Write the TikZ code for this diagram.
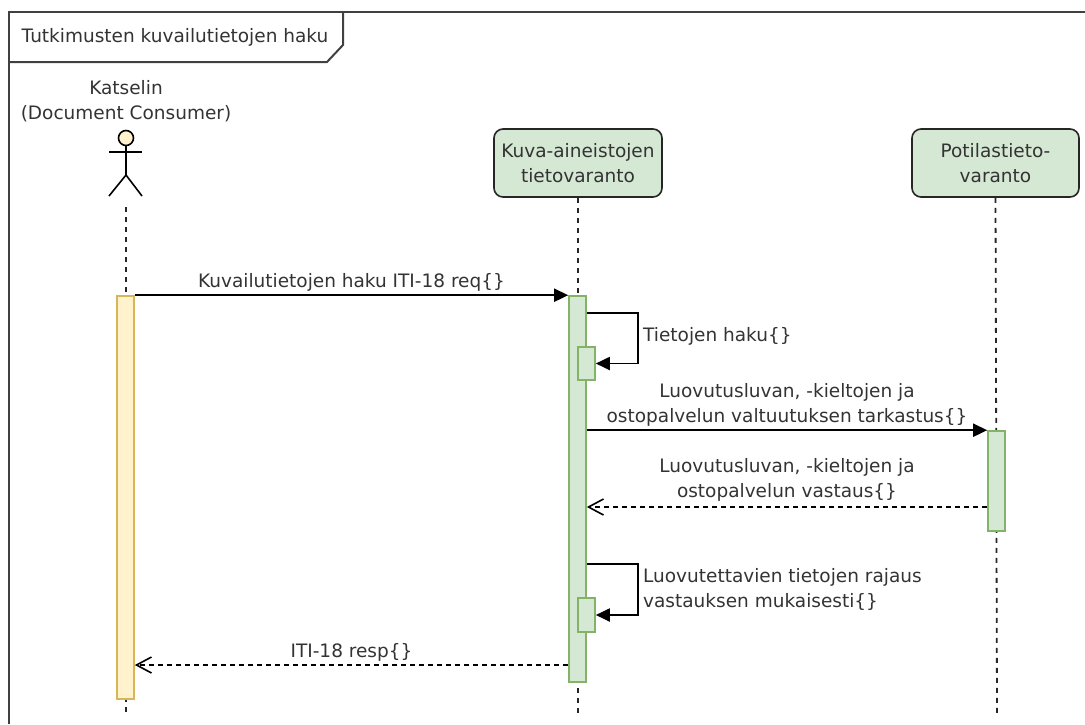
\documentclass[tikz,border=0pt]{standalone}
\usepackage{fontspec}
\setmainfont{DejaVu Sans}
\usetikzlibrary{positioning,arrows.meta}
\definecolor{greenfill}{HTML}{D5E8D4}
\definecolor{greenline}{HTML}{82B366}
\definecolor{yellowfill}{HTML}{FFF2CC}
\definecolor{yellowline}{HTML}{D6B656}
\definecolor{textgray}{HTML}{333333}

\begin{document}
\begin{tikzpicture}[
  x=1pt, y=-1pt,
  font=\fontsize{18.5}{25}\selectfont, text=textgray,
  lifebox/.style={rectangle, draw=black!85, rounded corners=9pt, fill=greenfill, minimum width=168pt, minimum height=68pt, align=center, line width=1.6pt, inner sep=0pt},
  act/.style={rectangle, draw=greenline, fill=greenfill, minimum width=17pt, line width=1.6pt, inner sep=0pt},
  actyellow/.style={act, draw=yellowline, fill=yellowfill},
  lifeline/.style={dash pattern=on 5pt off 5pt, line width=1.8pt, black!85},
  msg/.style={-{Triangle[length=14pt,width=13pt]}, line width=1.9pt},
  ret/.style={-{Straight Barb[length=15pt,width=16pt]}, line width=1.6pt, dash pattern=on 5pt off 4pt},
  lbl/.style={align=center, inner sep=0pt}
]
\useasboundingbox (0,0) rectangle (1085,724);

% Frame
\draw[line width=2pt, black!75] (1085,12) -- (9,12) -- (9,724);
\draw[line width=2pt, black!75] (9,62) -- (327,62) -- (343,45) -- (343,12);
\node[lbl] (title) at (175,37) {Tutkimusten kuvailutietojen haku};

% Actor
\node[lbl] (viewer) at (126,101) {Katselin\\(Document Consumer)};
\coordinate (head) at (126,138);
\draw[line width=1.6pt] (126,145.5) -- (126,175);
\draw[line width=1.6pt] (109,152) -- (142,152);
\draw[line width=1.6pt] (109,196) -- (126,175) -- (142,196);
\draw[line width=1.6pt, fill=yellowfill] (head) circle[radius=7.5];

% Lifeline heads
\node[lifebox] (imaging) at (578,163) {Kuva-aineistojen\\tietovaranto};
\node[lifebox, minimum width=167pt] (patient) at (995.5,163) {Potilastieto-\\varanto};

% Lifelines
\draw[lifeline] (126,207) -- (126,713);
\draw[lifeline] (imaging.south) -- (578,713);
\draw[lifeline] (patient.south) -- (997,713);

% Activations
\node[actyellow, minimum height=403pt] (actviewer) at (125.5,497.5) {};
\node[act, minimum height=386pt] (actimaging) at (577.5,489) {};
\node[act, minimum height=33pt] (fetch) at (586.5,363.5) {};
\node[act, minimum height=34pt] (limit) at (586.5,615) {};
\node[act, minimum height=100pt] (actpatient) at (996.5,481) {};

% Messages
\coordinate (loopone) at (0,313);
\coordinate (looptwo) at (0,564);
\coordinate (reply) at (0,507);
\coordinate (resp) at (0,665);

\draw[msg] (actviewer.north east) -- (actimaging.north west)
  node[midway, lbl, yshift=12.5pt] {Kuvailutietojen haku ITI-18 req\{\}};
\draw[msg] (actimaging.east |- loopone) -- ++(51,0) |- (fetch.east);
\node[lbl, anchor=west] at (643,336) {Tietojen haku\{\}};
\draw[msg] (actimaging.east |- actpatient.north) -- (actpatient.north west)
  node[midway, lbl, yshift=25pt] {Luovutusluvan, -kieltojen ja\\ostopalvelun valtuutuksen tarkastus\{\}};
\draw[ret] (actpatient.west |- reply) -- (actimaging.east |- reply)
  node[midway, lbl, yshift=27pt] {Luovutusluvan, -kieltojen ja\\ostopalvelun vastaus\{\}};
\draw[msg] (actimaging.east |- looptwo) -- ++(51,0) |- (limit.east);
\node[lbl, anchor=west, align=left] at (643,589) {Luovutettavien tietojen rajaus\\vastauksen mukaisesti\{\}};
\draw[ret] (actimaging.west |- resp) -- (actviewer.east |- resp)
  node[midway, lbl, yshift=12.5pt] {ITI-18 resp\{\}};

\end{tikzpicture}
\end{document}
